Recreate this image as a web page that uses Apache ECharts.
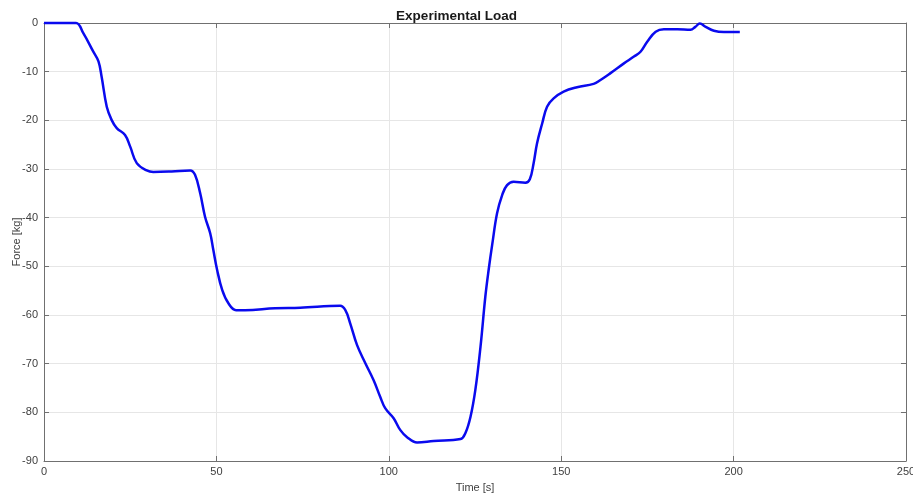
<!DOCTYPE html>
<html>
<head>
<meta charset="utf-8">
<script src="https://cdn.jsdelivr.net/npm/echarts@6/dist/echarts.min.js"></script>
<style>html,body{margin:0;padding:0;background:#fff}#c{width:913px;height:496px}</style>
</head>
<body>
<div id="c"></div>
<script>
const titleText = "Experimental Load";
const xLabel = "Time [s]";
const yLabel = "Force [kg]";
const timeValues = [0, 5, 9.3, 11.4, 14.3, 15.8, 16.7, 18.2, 19.6, 21.1, 23.5, 25, 26.9, 29.8, 31.7, 37, 42.4, 43.8, 45.3, 46.7, 48.2, 49.1, 50.2, 51.7, 53.4, 55.7, 58.3, 67, 74.3, 85.9, 87.4, 88.8, 90.8, 93.2, 95.6, 97.5, 99, 101.4, 103.3, 105.3, 108.2, 113, 120.8, 122.2, 123.7, 125.1, 126.6, 128, 129, 130, 131.4, 132.9, 134.3, 136.2, 139.6, 140.9, 142, 143, 144.5, 145.9, 147.8, 150.7, 154.6, 159.4, 161.4, 164.3, 168.2, 171.1, 173, 175, 177.4, 179.8, 183.7, 187.5, 188.9, 190.2, 191.9, 194.3, 197.2, 201.8];
const forceValues = [0, 0, 0, -2.1, -5.9, -7.9, -11, -17.2, -19.9, -21.6, -23, -25.4, -28.8, -30.3, -30.6, -30.5, -30.3, -31.2, -35, -39.8, -43.2, -46.6, -50.7, -54.9, -57.5, -59, -59, -58.6, -58.5, -58.1, -59, -61.7, -66.2, -69.9, -73.4, -76.8, -79.2, -81.2, -83.6, -85.1, -86.2, -85.9, -85.5, -84.3, -80.9, -75.4, -66.5, -56.2, -50.5, -45.5, -39.1, -35.3, -33.3, -32.6, -32.8, -32.1, -28.8, -24.7, -20.6, -17.2, -15.5, -14.1, -13.2, -12.5, -11.7, -10.3, -8.3, -6.9, -5.9, -3.8, -1.8, -1.3, -1.3, -1.4, -0.8, -0.1, -0.8, -1.6, -1.85, -1.85];
const xTicks = [0, 50, 100, 150, 200, 250];
const yTicks = [-90, -80, -70, -60, -50, -40, -30, -20, -10, 0];

const font = "Liberation Sans, Arial, sans-serif";
const axisColor = "#707070";
const labelColor = "#404040";
const gridColor = "#e6e6e6";

const chart = echarts.init(document.getElementById('c'), null, {renderer: 'canvas'});
const seriesData = timeValues.map((t, i) => [t, forceValues[i]]);

const baseX = {
  type: 'value', min: xTicks[0], max: xTicks[xTicks.length - 1], interval: 50,
  axisLine: {show: true, onZero: false, lineStyle: {color: axisColor, width: 1}},
  axisTick: {show: true, inside: true, length: 5, lineStyle: {color: axisColor}},
  splitLine: {show: false}
};
const baseY = {
  type: 'value', min: yTicks[0], max: yTicks[yTicks.length - 1], interval: 10,
  axisLine: {show: true, onZero: false, lineStyle: {color: axisColor, width: 1}},
  axisTick: {show: true, inside: true, length: 5, lineStyle: {color: axisColor}},
  splitLine: {show: false}
};

chart.setOption({
  animation: false,
  backgroundColor: '#ffffff',
  title: {
    text: titleText, left: 'center', top: 4,
    textStyle: {fontFamily: font, fontSize: 13.5, fontWeight: 'bold', color: '#1a1a1a'}
  },
  grid: {left: 44, right: 7, top: 23, bottom: 35, containLabel: false, outerBoundsMode: 'none'},
  xAxis: [
    Object.assign({}, baseX, {
      position: 'bottom',
      name: xLabel, nameLocation: 'middle', nameGap: 21, nameMoveOverlap: false,
      nameTextStyle: {fontFamily: font, fontSize: 11, color: labelColor},
      axisLabel: {show: true, fontFamily: font, fontSize: 11, color: labelColor, margin: 5},
      splitLine: {show: true, lineStyle: {color: gridColor, width: 1}}
    }),
    Object.assign({}, baseX, {position: 'top', axisLabel: {show: false}})
  ],
  yAxis: [
    Object.assign({}, baseY, {
      position: 'left',
      name: yLabel, nameLocation: 'middle', nameGap: 22, nameRotate: 90, nameMoveOverlap: false,
      nameTextStyle: {fontFamily: font, fontSize: 11, color: labelColor},
      axisLabel: {show: true, fontFamily: font, fontSize: 11, color: labelColor, margin: 6},
      splitLine: {show: true, lineStyle: {color: gridColor, width: 1}}
    }),
    Object.assign({}, baseY, {position: 'right', axisLabel: {show: false}})
  ],
  series: [{
    type: 'line', xAxisIndex: 0, yAxisIndex: 0,
    data: seriesData, showSymbol: false, symbol: 'none',
    smooth: 0.4,
    lineStyle: {color: '#0a0aee', width: 2.5},
    clip: false
  }]
});
</script>
</body>
</html>
